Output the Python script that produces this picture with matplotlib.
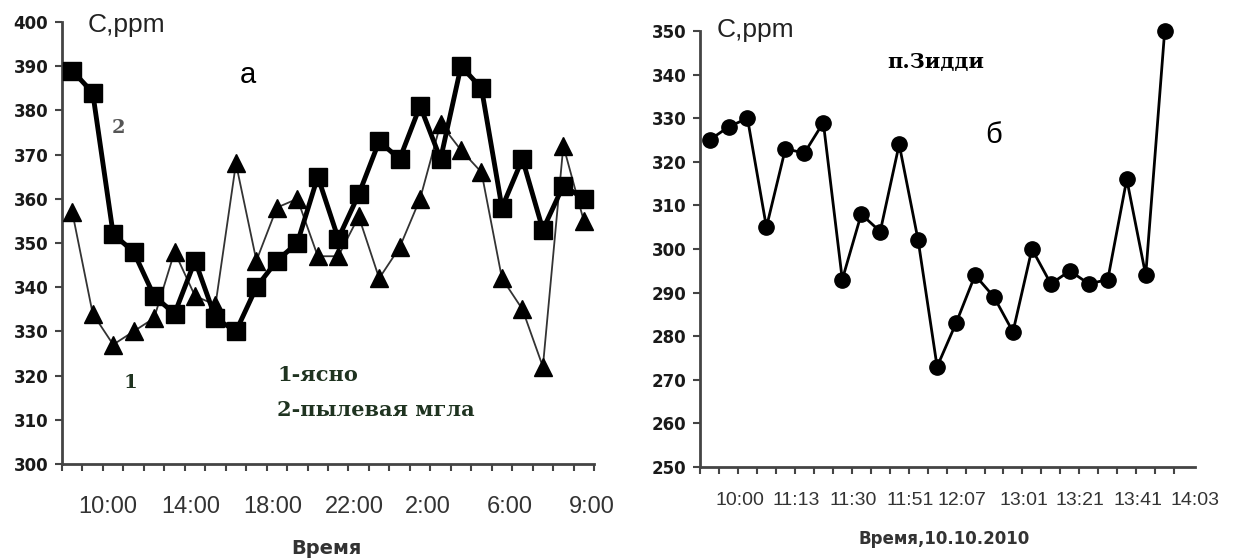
import matplotlib.pyplot as plt

# --- данные (левый график "а") ---
yasno = [357, 334, 327, 330, 333, 348, 338, 336, 368, 346, 358, 360, 347,
         347, 356, 342, 349, 360, 377, 371, 366, 342, 335, 322, 372, 355]
mgla = [389, 384, 352, 348, 338, 334, 346, 333, 330, 340, 346, 350, 365,
        351, 361, 373, 369, 381, 369, 390, 385, 358, 369, 353, 363, 360]
labels_a = ["10:00", "14:00", "18:00", "22:00", "2:00", "6:00", "9:00"]
labpos_a = [1.75, 5.8, 9.8, 13.8, 17.4, 21.4, 25.4]
yticks_a = [300, 310, 320, 330, 340, 350, 360, 370, 380, 390, 400]

# --- данные (правый график "б", п.Зидди) ---
ziddi = [325, 328, 330, 305, 323, 322, 329, 293, 308, 304, 324, 302, 273,
         283, 294, 289, 281, 300, 292, 295, 292, 293, 316, 294, 350]
labels_b = ["10:00", "11:13", "11:30", "11:51", "12:07", "13:01", "13:21",
            "13:41", "14:03"]
labpos_b = [1.6, 4.55, 7.6, 10.6, 13.3, 16.6, 19.55, 22.6, 25.6]
yticks_b = [250, 260, 270, 280, 290, 300, 310, 320, 330, 340, 350]

axcol = '#444444'
fig = plt.figure(figsize=(12.43, 5.58), dpi=100)


def oformit(ax, n, yticks, labels, labpos, labsize, labpad):
    """оси в стиле Excel: только левая и нижняя"""
    ax.spines['top'].set_visible(False)
    ax.spines['right'].set_visible(False)
    for s in ('left', 'bottom'):
        ax.spines[s].set_color(axcol)
        ax.spines[s].set_linewidth(2)
    ax.set_xlim(-0.5, n - 0.5)
    ax.set_ylim(yticks[0], yticks[-1])
    ax.set_yticks(yticks)
    ax.set_yticklabels([str(v) for v in yticks], fontsize=12,
                       fontweight='bold', family='DejaVu Sans',
                       color='#1a1a1a')
    ax.tick_params(axis='y', direction='out', length=5, width=1.5,
                   color=axcol, pad=5)
    # деления между категориями
    ax.xaxis.remove_overlapping_locs = False
    ax.set_xticks([k - 0.5 for k in range(n + 1)])
    ax.set_xticklabels([])
    ax.tick_params(axis='x', which='major', direction='out', length=5,
                   width=1.5, color=axcol)
    ax.set_xticks(labpos, minor=True)
    ax.set_xticklabels(labels, minor=True, fontsize=labsize,
                       family='Liberation Sans', color='#333333')
    ax.tick_params(axis='x', which='minor', length=0, pad=labpad)


# ===== левый график =====
ax1 = fig.add_axes([0.0499, 0.1685, 0.428, 0.7921])
x1 = list(range(len(mgla)))
ax1.plot(x1, yasno, '-', color='#333333', lw=1.3, marker='^',
         markersize=13, markerfacecolor='black', markeredgecolor='black',
         clip_on=False, zorder=3)
ax1.plot(x1, mgla, '-', color='black', lw=3.5, marker='s',
         markersize=13, markerfacecolor='black', markeredgecolor='black',
         clip_on=False, zorder=4)
oformit(ax1, len(mgla), yticks_a, labels_a, labpos_a, 17, 23)
ax1.text(0.049, 0.993, "C,ppm", transform=ax1.transAxes, fontsize=19,
         family='Liberation Sans', va='center', ha='left', color='#222222')
ax1.text(0.335, 0.88, "а", transform=ax1.transAxes, fontsize=21,
         family='Liberation Sans', va='center', ha='left')
ax1.text(0.094, 0.76, "2", transform=ax1.transAxes, fontsize=14,
         family='DejaVu Serif', fontweight='bold', color='#555555',
         va='center')
ax1.text(0.115, 0.183, "1", transform=ax1.transAxes, fontsize=14,
         family='DejaVu Serif', fontweight='bold', color='#1f3320',
         va='center')
ax1.text(0.405, 0.201, "1-ясно", transform=ax1.transAxes, fontsize=15,
         family='DejaVu Serif', fontweight='bold', color='#1f3320',
         va='center')
ax1.text(0.405, 0.122, "2-пылевая мгла", transform=ax1.transAxes,
         fontsize=15, family='DejaVu Serif', fontweight='bold',
         color='#1f3320', va='center')
fig.text(326 / 1243, 1 - 548 / 558, "Время", fontsize=14, fontweight='bold',
         family='DejaVu Sans', color='#333333', ha='center', va='center')

# ===== правый график =====
ax2 = fig.add_axes([0.5632, 0.1631, 0.3982, 0.7813])
x2 = list(range(len(ziddi)))
ax2.plot(x2, ziddi, '-', color='black', lw=2, marker='o', markersize=11,
         markerfacecolor='black', markeredgecolor='black', clip_on=False,
         zorder=3)
oformit(ax2, len(ziddi), yticks_b, labels_b, labpos_b, 14, 18)
ax2.text(0.034, 1.002, "C,ppm", transform=ax2.transAxes, fontsize=19,
         family='Liberation Sans', va='center', ha='left', color='#222222')
ax2.text(0.378, 0.929, "п.Зидди", transform=ax2.transAxes, fontsize=15,
         family='DejaVu Serif', fontweight='bold', va='center')
ax2.text(0.576, 0.761, "б", transform=ax2.transAxes, fontsize=21,
         family='Liberation Sans', va='center')
fig.text(944 / 1243, 1 - 539 / 558, "Время,10.10.2010", fontsize=12,
         fontweight='bold', family='DejaVu Sans', color='#333333',
         ha='center', va='center')

fig.savefig("out.png", dpi=100)
